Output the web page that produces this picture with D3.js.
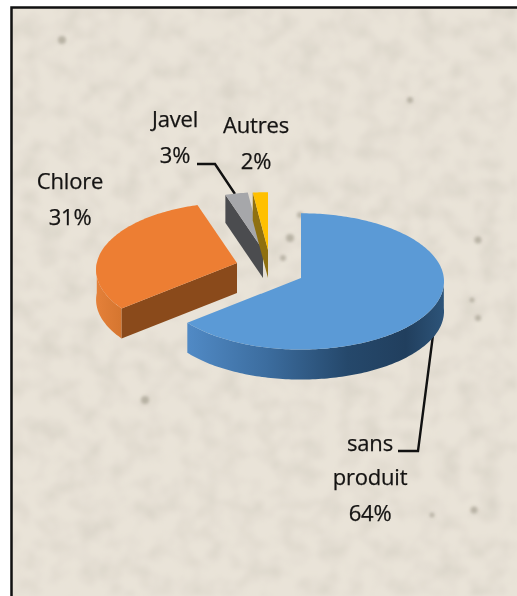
<!DOCTYPE html>
<html>
<head>
<meta charset="utf-8">
<script src="https://cdn.jsdelivr.net/npm/d3@7"></script>
<style>
html,body{margin:0;padding:0;background:#fff}
svg{display:block}
text{font-family:"Open Sans",sans-serif;font-size:22px;fill:#141312;text-anchor:middle;stroke:#141312;stroke-width:0.25px;letter-spacing:-0.2px}
</style>
</head>
<body>
<svg id="chart" width="517" height="596"></svg>
<script>
// Chart content
const categories = ["sans produit", "Chlore", "Javel", "Autres"];
const shares = [64, 31, 3, 2];

// Slice colours: top face, cut face
const topColors = ["#5b9ad6", "#ed7e33", "#a6a7aa", "#ffc000"];
const cutColors = [null, "#8a4a1b", "#4b4c4f", "#8f7010"];

// Exploded geometry of each slice
const apexX = [301, 237, 263, 268];
const apexY = [278, 263, 250, 250];
const sliceScale = [0.985, 0.967, 0.88, 0.88];
const perspective = [0.05, 0.1, 0.05, 0.05];
const thickness = [30, 30, 28, 28];
const radiusX = 145, radiusY = 69;

// Paper specks on the textured backdrop
const speckX = [290, 283, 478, 478, 472, 474, 432, 300, 62, 145, 410];
const speckY = [238, 258, 240, 318, 300, 510, 515, 215, 40, 400, 100];
const speckR = [4, 3, 3.5, 3, 2.5, 3.5, 2.5, 3, 4, 4, 3];

const svg = d3.select("#chart");
const defs = svg.append("defs");

// Mottled paper filter
const paper = defs.append("filter").attr("id", "paper")
  .attr("x", 0).attr("y", 0).attr("width", 1).attr("height", 1);
paper.append("feTurbulence").attr("type", "fractalNoise")
  .attr("baseFrequency", 0.05).attr("numOctaves", 3).attr("seed", 11).attr("result", "n");
paper.append("feColorMatrix").attr("in", "n").attr("type", "matrix")
  .attr("values", "0 0 0 0 0.66  0 0 0 0 0.62  0 0 0 0 0.54  1.4 0 0 0 -0.55").attr("result", "m");
paper.append("feGaussianBlur").attr("in", "m").attr("stdDeviation", 2).attr("result", "b");
paper.append("feFlood").attr("flood-color", "#e9e3d8").attr("result", "base");
paper.append("feComposite").attr("in", "b").attr("in2", "base").attr("operator", "over");

defs.append("filter").attr("id", "soft")
  .append("feGaussianBlur").attr("stdDeviation", 1.8);

// Shading along the curved rims
const rimBlue = defs.append("linearGradient").attr("id", "rim0")
  .attr("gradientUnits", "userSpaceOnUse").attr("x1", 190).attr("x2", 444).attr("y1", 0).attr("y2", 0);
[[0, "#5089c4"], [0.3, "#3c6d9f"], [0.62, "#25486b"], [0.85, "#213f5e"], [1, "#2d5479"]]
  .forEach(([o, c]) => rimBlue.append("stop").attr("offset", o).attr("stop-color", c));
const rimOrange = defs.append("linearGradient").attr("id", "rim1")
  .attr("gradientUnits", "userSpaceOnUse").attr("x1", 97).attr("x2", 125).attr("y1", 0).attr("y2", 0);
[[0, "#e48039"], [1, "#d3742e"]]
  .forEach(([o, c]) => rimOrange.append("stop").attr("offset", o).attr("stop-color", c));

// Backdrop and frame
svg.append("rect").attr("x", 11).attr("y", 7).attr("width", 506).attr("height", 589)
  .attr("filter", "url(#paper)");
svg.append("g").attr("filter", "url(#soft)").selectAll("circle")
  .data(d3.range(speckX.length)).join("circle")
  .attr("cx", i => speckX[i]).attr("cy", i => speckY[i]).attr("r", i => speckR[i])
  .attr("fill", "#a59f92").attr("opacity", 0.7);
svg.append("path").attr("d", "M11.5,596V7.5H517").attr("fill", "none")
  .attr("stroke", "#111").attr("stroke-width", 2.5);

// Leader lines
const leader = d3.line();
const leaders = [
  [[433, 335], [418, 451], [398, 451]],
  [[197, 164], [215, 164], [235, 194]]
];
svg.append("g").selectAll("path").data(leaders).join("path")
  .attr("d", leader).attr("fill", "none").attr("stroke", "#111")
  .attr("stroke-width", 2.4).attr("stroke-linejoin", "miter");

// Slices
const arcs = d3.pie().sort(null).value(d => d)(shares);
const outline = d3.line();

function project(i, angle) {
  const u = Math.sin(angle), v = -Math.cos(angle);
  const f = sliceScale[i] / (1 - perspective[i] * v);
  return [apexX[i] + radiusX * u * f, apexY[i] + radiusY * v * f];
}
function rimPoints(i, a0, a1) {
  const n = Math.max(2, Math.ceil((a1 - a0) / 0.02));
  return d3.range(n + 1).map(k => project(i, a0 + (a1 - a0) * k / n));
}
const drop = (pts, d) => pts.map(([x, y]) => [x, y + d]);

arcs.forEach((a, i) => {
  const g = svg.append("g").attr("class", "slice").attr("data-name", categories[i]);
  const d = thickness[i];

  // Outer rim: only the part facing the viewer
  const from = Math.max(a.startAngle, Math.PI / 2);
  const to = Math.min(a.endAngle, Math.PI * 1.5);
  if (to > from) {
    const edge = rimPoints(i, from, to);
    g.append("path").attr("d", outline(edge.concat(drop(edge, d).reverse())) + "Z")
      .attr("fill", `url(#rim${i})`);
  }

  // Radial cut face on the slices that show one
  if (cutColors[i]) {
    const apex = [apexX[i], apexY[i]];
    const corner = project(i, a.startAngle);
    g.append("path")
      .attr("d", outline([apex, corner, [corner[0], corner[1] + d], [apex[0], apex[1] + d]]) + "Z")
      .attr("fill", cutColors[i]);
  }

  // Top face
  g.append("path")
    .attr("d", outline([[apexX[i], apexY[i]], ...rimPoints(i, a.startAngle, a.endAngle)]) + "Z")
    .attr("fill", topColors[i]);
});

// Data labels
const labelLines = [["sans", "produit", "64%"], ["Chlore", "31%"], ["Javel", "3%"], ["Autres", "2%"]];
const labelX = [370, 70, 175, 256];
const labelY = [[451, 485, 521], [189, 225], [127, 163], [133, 169]];
labelLines.forEach((lines, i) => {
  svg.append("g").selectAll("text").data(lines).join("text")
    .attr("x", labelX[i]).attr("y", (_, k) => labelY[i][k]).text(t => t);
});
</script>
</body>
</html>
